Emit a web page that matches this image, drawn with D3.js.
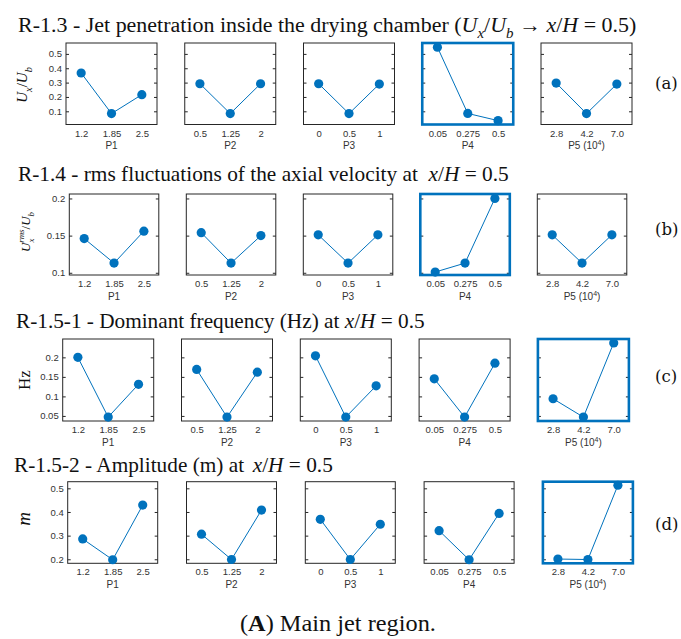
<!DOCTYPE html>
<html>
<head>
<meta charset="utf-8">
<title>Main jet region</title>
<script src="https://d3js.org/d3.v7.min.js"></script>
<style>
  body { margin: 0; background: #fff; }
  svg { display: block; }
  .tick text { font-family: "Liberation Sans", Arial, sans-serif; font-size: 9.5px; fill: #333; }
  .tick line { stroke: #262626; }
  .axname { font-family: "Liberation Sans", Arial, sans-serif; font-size: 10px; fill: #333; }
  .serif { font-family: "Liberation Serif", "Times New Roman", serif; fill: #111; }
</style>
</head>
<body>
<svg width="681" height="639"></svg>
<script>
// parameter names, scale exponent (P5 is in 10^4) and their three levels (x ticks)
const params = ["P1", "P2", "P3", "P4", "P5"];
const paramExp = ["", "", "", "", "4"];
const paramLevels = [
  ["1.2", "1.85", "2.5"],
  ["0.5", "1.25", "2"],
  ["0", "0.5", "1"],
  ["0.05", "0.275", "0.5"],
  ["2.8", "4.2", "7.0"]
];

// one array per response, one triple per parameter
const jetPenetration = [[0.367, 0.084, 0.216], [0.292, 0.084, 0.292], [0.292, 0.084, 0.290], [0.547, 0.085, 0.035], [0.297, 0.084, 0.290]];
const rmsAxial = [[0.146, 0.113, 0.156], [0.154, 0.113, 0.150], [0.151, 0.113, 0.151], [0.101, 0.113, 0.200], [0.151, 0.113, 0.151]];
const domFrequency = [[0.200, 0.047, 0.131], [0.169, 0.047, 0.162], [0.204, 0.047, 0.127], [0.145, 0.047, 0.185], [0.094, 0.047, 0.237]];
const amplitude = [[0.286, 0.198, 0.429], [0.306, 0.199, 0.408], [0.369, 0.199, 0.348], [0.321, 0.198, 0.394], [0.201, 0.199, 0.513]];

const yDomains = [[0.008, 0.576], [0.097, 0.206], [0.037, 0.247], [0.183, 0.528]];
const yTicks = [[0.1, 0.2, 0.3, 0.4, 0.5], [0.1, 0.15, 0.2], [0.05, 0.1, 0.15, 0.2], [0.2, 0.3, 0.4, 0.5]];
const highlighted = [3, 3, 4, 4];
const rowTags = ["(a)", "(b)", "(c)", "(d)"];

// titles: [text, kind, dx]
const rowTitles = [
  [["R-1.3 - Jet penetration inside the drying chamber ", "n"], ["(", "n"], ["U", "i"], ["x", "sub"], ["/", "n"], ["U", "i"], ["b", "sub"],
   [" \u2192 ", "n"], ["x", "i"], ["/", "n"], ["H", "i"], [" = 0.5)", "n"]],
  [["R-1.4 - rms fluctuations of the axial velocity at", "n"], ["x", "i", 10], ["/", "n"], ["H", "i"], [" = 0.5", "n"]],
  [["R-1.5-1 - Dominant frequency (Hz) at ", "n"], ["x", "i"], ["/", "n"], ["H", "i"], [" = 0.5", "n"]],
  [["R-1.5-2 - Amplitude (m) at", "n"], ["x", "i", 8], ["/", "n"], ["H", "i"], [" = 0.5", "n"]]
];
const yLabels = [
  [["U", "i"], ["x", "sub"], ["/", "n"], ["U", "i"], ["b", "sub"]],
  [["U", "i"], ["x", "sub"], ["rms", "sup", -4], ["/", "n"], ["U", "i"], ["b", "sub"]],
  [["Hz", "n"]],
  [["m", "i"]]
];

const series = [jetPenetration, rmsAxial, domFrequency, amplitude];

const layout = [
  {left: 66, step: 118.75, w: 91, top: 43, bottom: 124.5, tx: 18, tEnd: 637, ty: 31.5, tagY: 88.5, lx: 27, ly: 85, ls: 15},
  {left: 69.3, step: 117, w: 89.5, top: 194, bottom: 275, tx: 18, tEnd: 509, ty: 180.7, tagY: 235, lx: 30, ly: 232, ls: 13},
  {left: 62.7, step: 118.8, w: 91, top: 339, bottom: 421, tx: 16, tEnd: 425, ty: 328.3, tagY: 382, lx: 30, ly: 380, ls: 17},
  {left: 67.7, step: 118.8, w: 90, top: 481.7, bottom: 563.3, tx: 14, tEnd: 333, ty: 471.7, tagY: 530, lx: 30, ly: 519, ls: 19}
];

const blue = "#0072BD";
const svg = d3.select("svg");

function rich(sel, segs, size) {
  let shift = 0;
  segs.forEach(([t, k, dx]) => {
    const ts = sel.append("tspan").text(t);
    let target = 0;
    if (k === "sub") target = size * 0.3;
    if (k === "sup") target = -size * 0.45;
    if (k === "sub" || k === "sup") ts.attr("font-size", size * 0.68).attr("font-style", "italic");
    if (k === "i") ts.attr("font-style", "italic");
    ts.attr("dy", target - shift);
    if (dx) ts.attr("dx", dx);
    shift = target;
  });
}

// stretch a text horizontally so it spans [x0, x1]
function fitWidth(text, x0, x1, y) {
  const bw = text.node().getBBox().width;
  text.attr("transform", `translate(${x0},${y}) scale(${(x1 - x0) / bw},1)`);
}

layout.forEach((L, r) => {
  const h = L.bottom - L.top;
  const y = d3.scaleLinear().domain(yDomains[r]).range([h, 0]);

  const title = svg.append("text").attr("class", "serif").attr("font-size", 20);
  rich(title, rowTitles[r], 20);
  fitWidth(title, L.tx, L.tEnd, L.ty);

  const yl = svg.append("text").attr("class", "serif").attr("font-size", L.ls)
    .attr("text-anchor", "middle")
    .attr("transform", `translate(${L.lx},${L.ly}) rotate(-90)`);
  rich(yl, yLabels[r], L.ls);

  svg.append("text").attr("class", "serif")
    .style("font-family", "'DejaVu Serif', serif")
    .attr("font-size", 16.5)
    .attr("x", 655).attr("y", L.tagY)
    .text(rowTags[r]);

  params.forEach((p, c) => {
    const g = svg.append("g").attr("transform", `translate(${L.left + c * L.step},${L.top})`);
    const x = d3.scalePoint().domain(paramLevels[c]).range([0, L.w]).padding(0.5);

    const la = g.append("g").call(d3.axisLeft(y).tickValues(yTicks[r]).tickSize(-3).tickPadding(4)
      .tickFormat(c === 0 ? d3.format("~g") : ""));
    const ra = g.append("g").attr("transform", `translate(${L.w},0)`)
      .call(d3.axisRight(y).tickValues(yTicks[r]).tickSize(-3).tickFormat(""));
    const ba = g.append("g").attr("transform", `translate(0,${h})`)
      .call(d3.axisBottom(x).tickSize(0).tickPadding(5.3));
    [la, ra, ba].forEach(a => a.select(".domain").remove());
    ba.selectAll("text").attr("font-size", 9.5);

    const an = g.append("text").attr("class", "axname")
      .attr("x", L.w / 2).attr("y", h + 24.5)
      .attr("text-anchor", "middle")
      .text(p);
    if (paramExp[c]) {
      an.append("tspan").text(" (10");
      an.append("tspan").attr("font-size", 7).attr("dy", -4).text(paramExp[c]);
      an.append("tspan").attr("dy", 4).text(")");
    }

    const hi = highlighted[r] === c;
    g.append("rect")
      .attr("width", L.w).attr("height", h)
      .attr("fill", "none")
      .attr("stroke", hi ? blue : "#262626")
      .attr("stroke-width", hi ? 2.6 : 1);

    const vals = series[r][c];
    g.append("path")
      .datum(vals)
      .attr("fill", "none")
      .attr("stroke", blue)
      .attr("stroke-width", 1)
      .attr("d", d3.line().x((d, i) => x(paramLevels[c][i])).y(d => y(d)));

    g.selectAll("circle")
      .data(vals)
      .enter()
      .append("circle")
      .attr("cx", (d, i) => x(paramLevels[c][i]))
      .attr("cy", d => y(d))
      .attr("r", 4.6)
      .attr("fill", blue);
  });
});

// caption
const cap = svg.append("text").attr("class", "serif").attr("font-size", 24);
cap.append("tspan").text("(");
cap.append("tspan").attr("font-weight", "bold").text("A");
cap.append("tspan").text(") Main jet region.");
fitWidth(cap, 240, 436, 631);
</script>
</body>
</html>
